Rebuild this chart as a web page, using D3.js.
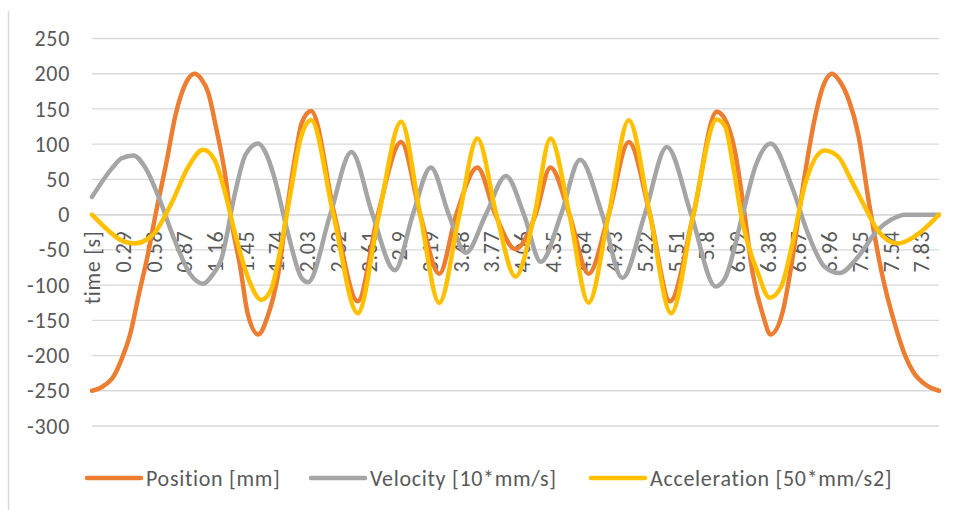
<!DOCTYPE html>
<html>
<head>
<meta charset="utf-8">
<script src="https://cdn.jsdelivr.net/npm/d3@7/dist/d3.min.js"></script>
<style>
  html, body { margin: 0; padding: 0; background: #fff; }
  svg { display: block; }
  text { font-family: Carlito, Lato, "Open Sans", sans-serif; fill: #595959; letter-spacing: 0.7px; }
</style>
</head>
<body>
<svg id="chart" width="956" height="510"></svg>
<script>
// ---- data: [time in s, value] ----
const position = [
  [0.00,-250],[0.10,-244],[0.21,-228],[0.28,-205],[0.36,-170],[0.44,-115],[0.53,-55],
  [0.60,0],[0.70,72],[0.79,142],[0.89,188],[0.97,200],[1.03,193],[1.10,172],[1.17,125],[1.26,54],
  [1.31,-3],[1.40,-74],[1.47,-140],[1.57,-170],[1.66,-144],[1.76,-83],[1.85,16],
  [1.93,92],[1.98,130],[2.07,147],[2.29,0],[2.51,-123],[2.70,0],[2.92,103],[3.10,0],
  [3.28,-84],[3.44,0],[3.64,67],[3.81,0],[4.00,-49],[4.19,0],[4.33,67],[4.51,0],
  [4.69,-84],[4.88,0],[5.07,103],[5.27,0],[5.46,-123],[5.68,0],[5.90,146],[5.98,135],
  [6.07,92],[6.15,16],[6.24,-83],[6.34,-144],[6.41,-170],[6.52,-140],[6.61,-68],
  [6.70,25],[6.83,139],[6.90,180],[6.99,200],[7.06,190],[7.14,166],[7.24,112],[7.33,25],
  [7.46,-83],[7.58,-154],[7.68,-200],[7.76,-224],[7.88,-242],[8.00,-250]
];
const velocity = [
  [0.00,25],[0.19,66],[0.28,80],[0.39,84],[0.51,65],[0.64,21],[0.78,-36],[0.93,-85],
  [1.05,-98],[1.14,-85],[1.22,-64],[1.35,30],[1.45,85],[1.57,101],[1.64,88],[1.72,54],
  [1.85,-26],[1.98,-90],[2.04,-96],[2.25,0],[2.45,89],[2.65,0],[2.86,-79],[3.03,0],
  [3.20,67],[3.37,0],[3.53,-54],[3.72,0],[3.91,55],[4.08,0],[4.24,-67],[4.43,0],
  [4.61,78],[4.82,0],[5.01,-90],[5.22,0],[5.43,96],[5.66,0],[5.89,-102],[5.98,-90],
  [6.14,-3],[6.27,70],[6.41,101],[6.61,40],[6.76,-26],[6.92,-74],[7.06,-83],
  [7.24,-59],[7.42,-22],[7.55,-7],[7.68,0],[8.00,0]
];
const acceleration = [
  [0.00,0],[0.15,-22],[0.27,-36],[0.40,-41],[0.51,-36],[0.59,-26],[0.75,16],[0.91,68],
  [1.05,92],[1.16,77],[1.25,35],[1.35,-26],[1.47,-88],[1.60,-121],[1.69,-107],
  [1.79,-41],[1.88,35],[1.97,108],[2.07,134],[2.28,0],[2.51,-140],[2.71,0],[2.92,132],
  [3.10,0],[3.28,-125],[3.47,0],[3.64,108],[3.82,0],[4.00,-88],[4.18,0],[4.33,108],
  [4.51,0],[4.69,-125],[4.88,0],[5.07,134],[5.27,0],[5.47,-140],[5.68,0],[5.90,135],
  [5.98,125],[6.06,65],[6.14,-8],[6.29,-83],[6.40,-118],[6.51,-102],[6.61,-45],
  [6.73,40],[6.92,91],[7.05,82],[7.17,49],[7.30,11],[7.42,-22],[7.61,-41],[7.77,-31],
  [8.00,0]
];

const seriesNames = ["Position [mm]", "Velocity [10*mm/s]", "Acceleration [50*mm/s2]"];
const seriesColors = ["#ED7D31", "#A5A5A5", "#FFC000"];

const yTicks = [-300,-250,-200,-150,-100,-50,0,50,100,150,200,250];
const xTickValues = [0,0.29,0.58,0.87,1.16,1.45,1.74,2.03,2.32,2.61,2.9,3.19,3.48,3.77,
  4.06,4.35,4.64,4.93,5.22,5.51,5.8,6.09,6.38,6.67,6.96,7.25,7.54,7.83];
const xTickLabels = ["time [s]","0.29","0.58","0.87","1.16","1.45","1.74","2.03","2.32",
  "2.61","2.9","3.19","3.48","3.77","4.06","4.35","4.64","4.93","5.22","5.51","5.8",
  "6.09","6.38","6.67","6.96","7.25","7.54","7.83"];

// ---- layout ----
const svg = d3.select("#chart");
const plot = { left: 92, right: 939, top: 38.5, bottom: 426 };
const fontSize = "22px";

const x = d3.scaleLinear().domain([0, 8]).range([plot.left, plot.right]);
const y = d3.scaleLinear().domain([-300, 250]).range([plot.bottom, plot.top]);

// chart frame edge
svg.append("line")
  .attr("x1", 8.5).attr("x2", 8.5).attr("y1", 11).attr("y2", 510)
  .attr("stroke", "#d9d9d9").attr("stroke-width", 1.5);

// horizontal gridlines
svg.append("g").selectAll("line").data(yTicks).join("line")
  .attr("x1", plot.left).attr("x2", plot.right)
  .attr("y1", d => y(d)).attr("y2", d => y(d))
  .attr("stroke", "#d9d9d9").attr("stroke-width", 1.3);

// y-axis labels (plain hyphen for negatives)
const yAxis = d3.axisLeft(y).tickValues(yTicks).tickFormat(d => String(d))
  .tickSize(0).tickPadding(22);
svg.append("g")
  .attr("transform", `translate(${plot.left},0)`)
  .call(yAxis)
  .call(g => g.select(".domain").remove())
  .call(g => g.selectAll("text")
    .style("font-family", "Carlito, Lato, 'Open Sans', sans-serif")
    .style("font-size", fontSize).attr("fill", "#595959"));

// x-axis (category labels) crossing at zero
const xAxis = d3.axisBottom(x).tickValues(xTickValues)
  .tickFormat((d, i) => xTickLabels[i]).tickSize(0);
svg.append("g")
  .attr("transform", `translate(0,${y(0)})`)
  .call(xAxis)
  .call(g => g.select(".domain").attr("stroke", "#d9d9d9").attr("stroke-width", 1.3))
  .call(g => g.selectAll("text")
    .style("font-family", "Carlito, Lato, 'Open Sans', sans-serif")
    .style("font-size", fontSize).attr("fill", "#595959")
    .attr("text-anchor", "end")
    .attr("y", 0).attr("dy", "0.35em")
    .attr("transform", "translate(0,16) rotate(-90)"));

// series lines
const line = d3.line()
  .x(d => x(d[0])).y(d => y(d[1]))
  .curve(d3.curveMonotoneX);

[position, velocity, acceleration].forEach((data, i) => {
  svg.append("path")
    .datum(data)
    .attr("d", line)
    .attr("fill", "none")
    .attr("stroke", seriesColors[i])
    .attr("stroke-width", 4.5)
    .attr("stroke-linejoin", "round")
    .attr("stroke-linecap", "round");
});

// legend
const legendX = [87, 311, 591];
const legendY = 478;
const legend = svg.append("g");
seriesNames.forEach((name, i) => {
  legend.append("line")
    .attr("x1", legendX[i]).attr("x2", legendX[i] + 54)
    .attr("y1", legendY).attr("y2", legendY)
    .attr("stroke", seriesColors[i]).attr("stroke-width", 4.5)
    .attr("stroke-linecap", "round");
  legend.append("text")
    .attr("x", legendX[i] + 59).attr("y", legendY).attr("dy", "0.35em")
    .style("font-size", fontSize)
    .text(name);
});
</script>
</body>
</html>
